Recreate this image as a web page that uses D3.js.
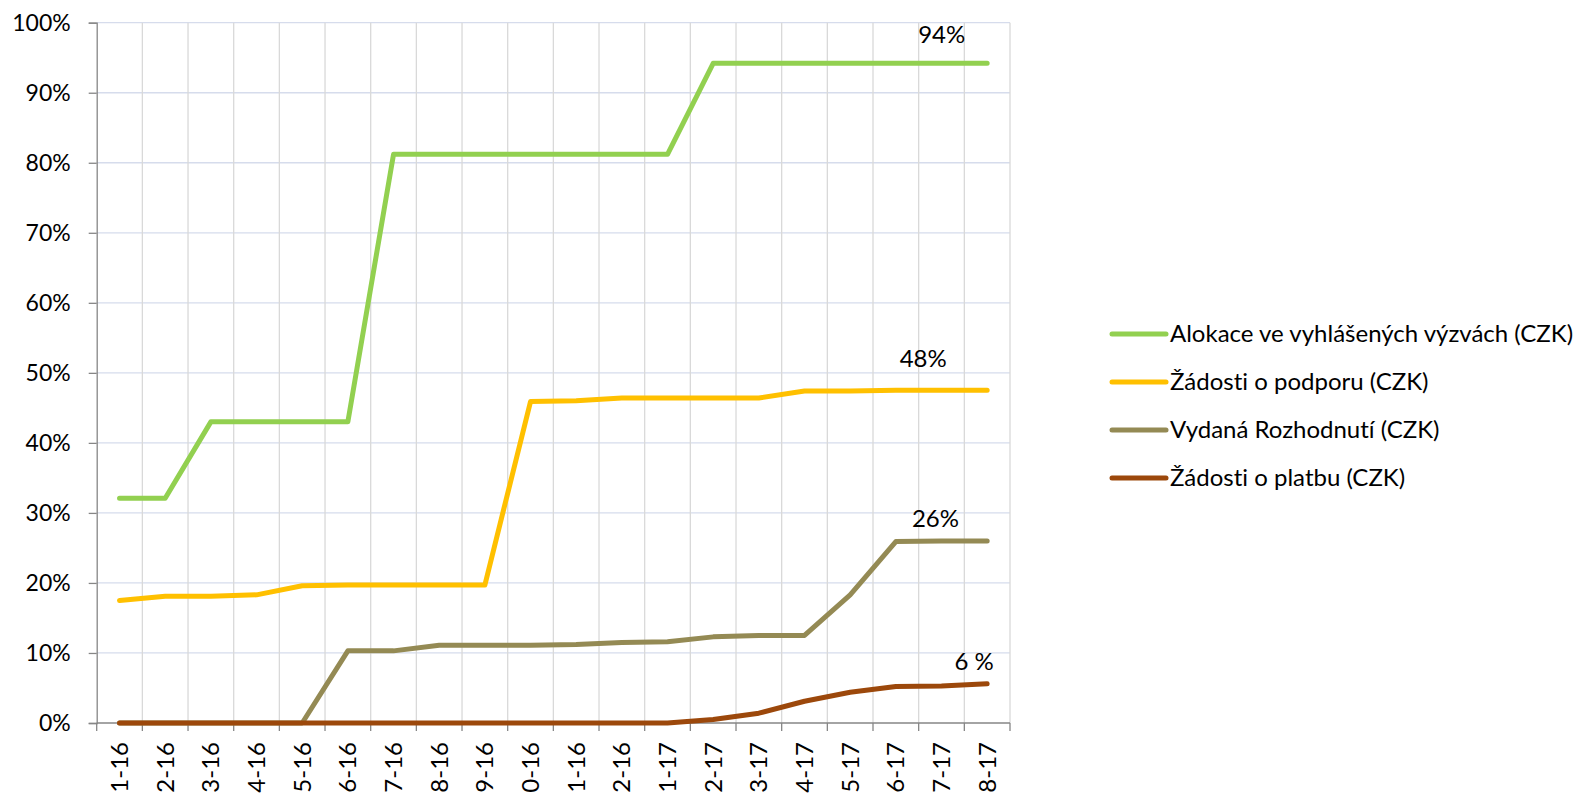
<!DOCTYPE html>
<html>
<head>
<meta charset="utf-8">
<script src="https://cdn.jsdelivr.net/npm/d3@7"></script>
<style>
  html, body { margin: 0; padding: 0; background: #ffffff; }
  svg { display: block; }
  text { font-family: Lato, "Open Sans", sans-serif; fill: #000; font-variant-ligatures: none; font-feature-settings: "liga" 0, "clig" 0; }
</style>
</head>
<body>
<svg id="chart" width="1581" height="794"></svg>
<script>
const categories = ["1-16","2-16","3-16","4-16","5-16","6-16","7-16","8-16","9-16","10-16","11-16","12-16",
                    "1-17","2-17","3-17","4-17","5-17","6-17","7-17","8-17"];
const alokace   = [32.1,32.1,43.0,43.0,43.0,43.0,81.2,81.2,81.2,81.2,81.2,81.2,81.2,94.2,94.2,94.2,94.2,94.2,94.2,94.2];
const zadostiPodpora = [17.5,18.1,18.1,18.3,19.6,19.7,19.7,19.7,19.7,45.9,46.0,46.4,46.4,46.4,46.4,47.4,47.4,47.5,47.5,47.5];
const rozhodnuti = [0,0,0,0,0,10.3,10.3,11.1,11.1,11.1,11.2,11.5,11.6,12.3,12.5,12.5,18.3,25.9,26.0,26.0];
const zadostiPlatba = [0,0,0,0,0,0,0,0,0,0,0,0,0,0.5,1.4,3.1,4.4,5.2,5.3,5.6];
const seriesNames = ["Alokace ve vyhlášených výzvách (CZK)","Žádosti o podporu (CZK)","Vydaná Rozhodnutí (CZK)","Žádosti o platbu (CZK)"];
const seriesColors = ["#92d050","#ffc000","#948a54","#9c480b"];
const endLabels = ["94%","48%","26%","6 %"];
const yTicks = [0,10,20,30,40,50,60,70,80,90,100];

const series = [alokace, zadostiPodpora, rozhodnuti, zadostiPlatba];

const svg = d3.select("#chart");
const pLeft = 96.7, pRight = 1010, pTop = 22.7, pBottom = 723;

const x = d3.scaleBand().domain(categories).range([pLeft, pRight]).padding(0);
const xc = c => x(c) + x.bandwidth() / 2;
const y = d3.scaleLinear().domain([0, 100]).range([pBottom, pTop]);

// horizontal gridlines
svg.append("g").selectAll("line").data(yTicks.filter(d => d > 0)).join("line")
  .attr("x1", pLeft).attr("x2", pRight)
  .attr("y1", d => y(d)).attr("y2", d => y(d))
  .attr("stroke", "#d6dcec").attr("stroke-width", 1.3);

// vertical gridlines at category boundaries
svg.append("g").selectAll("line").data(categories).join("line")
  .attr("x1", d => x(d) + x.bandwidth()).attr("x2", d => x(d) + x.bandwidth())
  .attr("y1", pTop).attr("y2", pBottom)
  .attr("stroke", "#d9d9d9").attr("stroke-width", 1.3);

// Y axis
const yAxis = d3.axisLeft(y).tickValues(yTicks).tickFormat(d => d + "%").tickSize(8).tickPadding(18);
const gy = svg.append("g").attr("transform", `translate(${pLeft},0)`).call(yAxis);
gy.select(".domain").attr("stroke", "#868686").attr("stroke-width", 1.3);
gy.selectAll(".tick line").attr("stroke", "#868686").attr("stroke-width", 1.3);
gy.selectAll(".tick text").attr("font-size", 23).attr("font-family", "Lato, sans-serif").attr("fill", "#000");

// X axis baseline and ticks at boundaries
svg.append("line").attr("x1", pLeft).attr("x2", pRight).attr("y1", pBottom).attr("y2", pBottom)
  .attr("stroke", "#868686").attr("stroke-width", 1.3);
const boundaries = [pLeft].concat(categories.map(c => x(c) + x.bandwidth()));
svg.append("g").selectAll("line").data(boundaries).join("line")
  .attr("x1", d => d).attr("x2", d => d).attr("y1", pBottom).attr("y2", pBottom + 8)
  .attr("stroke", "#868686").attr("stroke-width", 1.3);

// x labels rotated (run off the bottom edge as in the reference)
svg.append("g").selectAll("text").data(categories).join("text")
  .attr("transform", d => `translate(${xc(d)},${pBottom + 19}) rotate(-90)`)
  .attr("text-anchor", "end").attr("dy", "0.35em")
  .attr("font-size", 24)
  .text(d => d);

// lines
const line = d3.line().x((d, i) => xc(categories[i])).y(d => y(d));
series.forEach((s, k) => {
  svg.append("path").datum(s).attr("d", line)
    .attr("fill", "none").attr("stroke", seriesColors[k]).attr("stroke-width", 5)
    .attr("stroke-linejoin", "round").attr("stroke-linecap", "round");
});

// end labels
const labelOffsets = [[-45.5, -28.6], [-64, -31.5], [-51.7, -22], [-13, -22.5]];
series.forEach((s, k) => {
  const last = categories[categories.length - 1];
  svg.append("text")
    .attr("x", xc(last) + labelOffsets[k][0])
    .attr("y", y(s[s.length - 1]) + labelOffsets[k][1])
    .attr("text-anchor", "middle").attr("dy", "0.35em")
    .attr("font-size", 24)
    .text(endLabels[k]);
});

// legend
const legendY = [334, 382, 430, 478];
const lg = svg.append("g");
seriesNames.forEach((n, k) => {
  lg.append("line").attr("x1", 1112).attr("x2", 1166).attr("y1", legendY[k]).attr("y2", legendY[k])
    .attr("stroke", seriesColors[k]).attr("stroke-width", 5).attr("stroke-linecap", "round");
  lg.append("text").attr("x", 1170).attr("y", legendY[k]).attr("dy", "0.35em")
    .attr("font-size", 24).text(n);
});
</script>
</body>
</html>
